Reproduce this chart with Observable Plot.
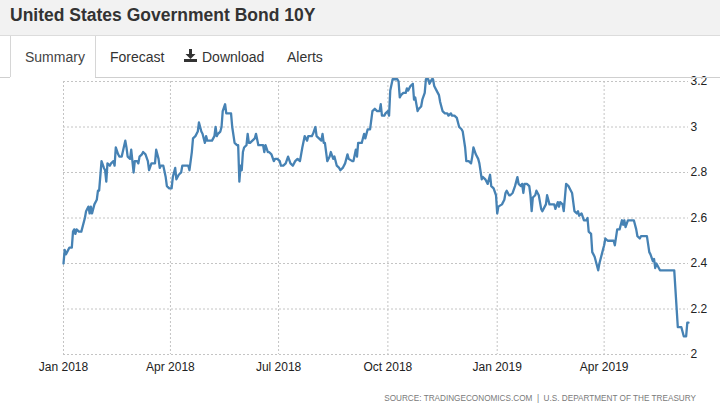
<!DOCTYPE html>
<html>
<head>
<meta charset="utf-8">
<script src="https://cdn.jsdelivr.net/npm/d3@7"></script>
<script src="https://cdn.jsdelivr.net/npm/@observablehq/plot@0.6"></script>
<style>
  html, body { margin: 0; padding: 0; background: #fff; }
  #page { position: relative; width: 720px; height: 412px; overflow: hidden; font-family: "Liberation Sans", Arial, sans-serif; }
  #header { position: absolute; left: 0; top: 0; width: 720px; height: 35px; background: #f2f2f2; border-bottom: 1px solid #dcdcdc; }
  #title { position: absolute; left: 10px; top: 7px; font-size: 17.5px; line-height: 17.5px; font-weight: bold; color: #333; white-space: nowrap; }
  .tab { position: absolute; top: 50px; font-size: 14px; line-height: 14px; color: #333; white-space: nowrap; }
  #activeTab { position: absolute; left: 10px; top: 36px; width: 84px; height: 41px; border-left: 1px solid #d6d6d6; border-right: 1px solid #d6d6d6; background: #fff; }
  .hline { position: absolute; height: 1px; background: #cfcfcf; }
  #chart { position: absolute; left: 0; top: 72px; }
  #source { position: absolute; right: 24px; top: 394px; font-size: 8.2px; line-height: 9px; color: #7a7a7a; letter-spacing: 0px; white-space: pre; }
</style>
</head>
<body>
<div id="page">
  <div id="header"><div id="title">United States Government Bond 10Y</div></div>
  <div id="chart"></div>
  <div id="activeTab"></div>
  <div class="hline" style="left:0;top:77px;width:10px"></div>
  <div class="hline" style="left:95px;top:77px;width:625px"></div>
  <div class="tab" id="tabSummary" style="left:25px;color:#444">Summary</div>
  <div class="tab" style="left:110px">Forecast</div>
  <svg style="position:absolute;left:184px;top:49px" width="13" height="13" viewBox="0 0 13 13">
    <rect x="5" y="0" width="3" height="6" fill="#333"></rect>
    <polygon points="1.5,5 11.5,5 6.5,10" fill="#333"></polygon>
    <rect x="0" y="10" width="13" height="3" fill="#333"></rect>
  </svg>
  <div class="tab" style="left:202px">Download</div>
  <div class="tab" style="left:287px">Alerts</div>
  <div id="source">SOURCE: TRADINGECONOMICS.COM  |  U.S. DEPARTMENT OF THE TREASURY</div>
</div>
<script>
const dates = [
"2018-01-01","2018-01-02","2018-01-03","2018-01-04","2018-01-06","2018-01-08","2018-01-09","2018-01-10","2018-01-11","2018-01-12",
"2018-01-14","2018-01-16","2018-01-19","2018-01-20","2018-01-22","2018-01-23","2018-01-24","2018-01-25","2018-01-27","2018-01-29",
"2018-01-30","2018-01-31","2018-02-02","2018-02-04","2018-02-05","2018-02-06","2018-02-07","2018-02-09","2018-02-10","2018-02-12",
"2018-02-13","2018-02-14","2018-02-16","2018-02-17","2018-02-19","2018-02-22","2018-02-23","2018-02-24","2018-02-26","2018-02-27",
"2018-02-28","2018-03-01","2018-03-02","2018-03-04","2018-03-05","2018-03-06","2018-03-08","2018-03-09","2018-03-11","2018-03-13",
"2018-03-14","2018-03-16","2018-03-17","2018-03-19","2018-03-20","2018-03-22","2018-03-23","2018-03-24","2018-03-26","2018-03-28",
"2018-03-29","2018-03-31","2018-04-02","2018-04-03","2018-04-05","2018-04-06","2018-04-08","2018-04-10","2018-04-11","2018-04-14",
"2018-04-16","2018-04-17","2018-04-19","2018-04-20","2018-04-22","2018-04-24","2018-04-25","2018-04-27","2018-04-28","2018-04-30",
"2018-05-01","2018-05-02","2018-05-04","2018-05-06","2018-05-08","2018-05-09","2018-05-10","2018-05-11","2018-05-13","2018-05-14",
"2018-05-15","2018-05-17","2018-05-18","2018-05-20","2018-05-22","2018-05-23","2018-05-25","2018-05-27","2018-05-28","2018-05-29",
"2018-05-30","2018-05-31","2018-06-01","2018-06-02","2018-06-04","2018-06-05","2018-06-06","2018-06-07","2018-06-09","2018-06-11",
"2018-06-12","2018-06-14","2018-06-16","2018-06-18","2018-06-19","2018-06-20","2018-06-22","2018-06-23","2018-06-25","2018-06-27",
"2018-06-28","2018-06-30","2018-07-02","2018-07-03","2018-07-05","2018-07-07","2018-07-09","2018-07-11","2018-07-13","2018-07-15",
"2018-07-17","2018-07-19","2018-07-21","2018-07-23","2018-07-25","2018-07-26","2018-07-29","2018-07-30","2018-08-01","2018-08-02",
"2018-08-04","2018-08-06","2018-08-07","2018-08-08","2018-08-09","2018-08-11","2018-08-13","2018-08-14","2018-08-16","2018-08-17",
"2018-08-19","2018-08-21","2018-08-22","2018-08-24","2018-08-26","2018-08-28","2018-08-29","2018-09-01","2018-09-02","2018-09-04",
"2018-09-05","2018-09-06","2018-09-09","2018-09-11","2018-09-12","2018-09-14","2018-09-16","2018-09-18","2018-09-20","2018-09-22",
"2018-09-24","2018-09-25","2018-09-26","2018-09-28","2018-09-29","2018-10-01","2018-10-02","2018-10-03","2018-10-05","2018-10-07",
"2018-10-09","2018-10-10","2018-10-11","2018-10-12","2018-10-14","2018-10-16","2018-10-17","2018-10-18","2018-10-20","2018-10-22",
"2018-10-23","2018-10-24","2018-10-26","2018-10-27","2018-10-29","2018-10-30","2018-11-01","2018-11-02","2018-11-04","2018-11-05",
"2018-11-07","2018-11-08","2018-11-09","2018-11-11","2018-11-13","2018-11-14","2018-11-16","2018-11-18","2018-11-20","2018-11-21",
"2018-11-23","2018-11-24","2018-11-26","2018-11-28","2018-11-29","2018-11-30","2018-12-02","2018-12-03","2018-12-05","2018-12-06",
"2018-12-08","2018-12-10","2018-12-11","2018-12-12","2018-12-14","2018-12-16","2018-12-17","2018-12-19","2018-12-20","2018-12-22",
"2018-12-24","2018-12-25","2018-12-26","2018-12-27","2018-12-29","2018-12-31",
"2019-01-01","2019-01-02","2019-01-05","2019-01-07","2019-01-08","2019-01-09","2019-01-11","2019-01-12","2019-01-14","2019-01-16",
"2019-01-18","2019-01-19","2019-01-21","2019-01-22","2019-01-23","2019-01-24","2019-01-26","2019-01-28","2019-01-29","2019-01-30",
"2019-01-31","2019-02-02","2019-02-03","2019-02-05","2019-02-07","2019-02-08","2019-02-10","2019-02-11","2019-02-12","2019-02-14",
"2019-02-16","2019-02-18","2019-02-19","2019-02-21","2019-02-22","2019-02-23","2019-02-25","2019-02-26","2019-02-27","2019-02-28",
"2019-03-02","2019-03-04","2019-03-05","2019-03-07","2019-03-09","2019-03-10","2019-03-11","2019-03-13","2019-03-15","2019-03-17",
"2019-03-18","2019-03-19","2019-03-21","2019-03-22","2019-03-24","2019-03-25","2019-03-27","2019-03-28","2019-03-30","2019-04-01",
"2019-04-02","2019-04-04","2019-04-06","2019-04-09","2019-04-10","2019-04-12","2019-04-13","2019-04-14","2019-04-16","2019-04-17",
"2019-04-18","2019-04-19","2019-04-21","2019-04-23","2019-04-26","2019-04-28","2019-04-29","2019-05-01","2019-05-02","2019-05-05",
"2019-05-07","2019-05-09","2019-05-10","2019-05-12","2019-05-13","2019-05-14","2019-05-15","2019-05-16","2019-05-18","2019-05-21",
"2019-05-27","2019-05-30","2019-06-02","2019-06-04","2019-06-05","2019-06-07","2019-06-09","2019-06-10","2019-06-11"
];
const yields = [
2.40,2.46,2.44,2.45,2.47,2.47,2.54,2.55,2.53,2.55,
2.54,2.54,2.60,2.63,2.65,2.62,2.65,2.62,2.66,2.68,
2.72,2.72,2.85,2.82,2.81,2.76,2.84,2.83,2.84,2.85,
2.83,2.91,2.88,2.87,2.87,2.94,2.91,2.87,2.86,2.90,
2.85,2.80,2.85,2.85,2.84,2.87,2.88,2.89,2.88,2.85,
2.81,2.84,2.84,2.84,2.90,2.86,2.82,2.83,2.83,2.78,
2.74,2.73,2.73,2.78,2.82,2.77,2.79,2.80,2.83,2.83,
2.83,2.81,2.89,2.95,2.96,2.98,3.02,2.98,2.97,2.93,
2.96,2.94,2.94,2.94,2.96,3.00,2.96,2.97,2.98,3.00,
3.07,3.10,3.06,3.06,3.06,3.00,2.93,2.92,2.92,2.76,
2.83,2.81,2.89,2.91,2.92,2.97,2.93,2.93,2.94,2.95,
2.97,2.92,2.92,2.92,2.89,2.92,2.89,2.89,2.88,2.85,
2.86,2.86,2.85,2.83,2.83,2.84,2.87,2.84,2.83,2.85,
2.86,2.85,2.91,2.96,2.94,2.96,2.96,2.97,3.00,2.96,
2.95,2.94,2.97,2.93,2.93,2.85,2.87,2.89,2.86,2.87,
2.83,2.82,2.81,2.82,2.84,2.88,2.86,2.85,2.85,2.90,
2.87,2.93,2.93,2.97,2.95,2.99,2.99,3.07,3.08,3.07,
3.07,3.10,3.05,3.05,3.06,3.07,3.05,3.16,3.21,3.21,
3.21,3.20,3.13,3.14,3.15,3.15,3.17,3.16,3.18,3.19,
3.12,3.13,3.07,3.08,3.09,3.12,3.15,3.21,3.21,3.19,
3.21,3.21,3.18,3.16,3.14,3.11,3.07,3.06,3.06,3.05,
3.06,3.05,3.05,3.04,3.02,3.00,2.99,2.98,2.91,2.85,
2.85,2.84,2.87,2.91,2.88,2.86,2.84,2.77,2.78,2.77,
2.75,2.77,2.79,2.74,2.73,2.70,
2.62,2.65,2.66,2.68,2.71,2.72,2.70,2.70,2.71,2.74,
2.78,2.75,2.74,2.75,2.71,2.75,2.75,2.74,2.70,2.63,
2.69,2.70,2.72,2.70,2.64,2.63,2.65,2.66,2.70,2.66,
2.66,2.66,2.64,2.67,2.65,2.67,2.66,2.63,2.69,2.75,
2.74,2.72,2.71,2.63,2.62,2.63,2.61,2.62,2.59,2.59,
2.60,2.54,2.53,2.45,2.43,2.41,2.37,2.40,2.44,2.48,
2.51,2.50,2.50,2.50,2.48,2.55,2.55,2.55,2.59,2.57,
2.59,2.56,2.59,2.59,2.59,2.55,2.52,2.51,2.52,2.52,
2.52,2.45,2.44,2.41,2.42,2.38,2.40,2.39,2.37,2.37,
2.37,2.37,2.12,2.12,2.12,2.08,2.08,2.14,2.14
];
const xTickDates = ["2018-01-01","2018-04-01","2018-07-01","2018-10-01","2019-01-01","2019-04-01"];
const yTickValues = [2, 2.2, 2.4, 2.6, 2.8, 3, 3.2];
const xStart = "2018-01-01";
const xEnd = "2019-06-11";

const parse = s => new Date(s + "T00:00:00Z");
const rows = dates.map((d, i) => ({date: parse(d), value: yields[i]}));
const xTicks = xTickDates.map(parse);
const gridStyle = {stroke: "#c4c4c4", strokeOpacity: 1, strokeWidth: 1, strokeDasharray: "2,2"};

const chart = Plot.plot({
  width: 720,
  height: 312,
  marginTop: 9,
  marginBottom: 30,
  marginLeft: 63,
  marginRight: 32,
  style: {background: "transparent", fontFamily: "'Liberation Sans', Arial, sans-serif", fontSize: "12px", color: "#222", overflow: "visible"},
  x: {type: "utc", domain: [parse(xStart), parse(xEnd)]},
  y: {domain: [2, 3.2]},
  marks: [
    Plot.gridX(xTicks, gridStyle),
    Plot.gridY(yTickValues, gridStyle),
    Plot.axisX(xTicks, {tickSize: 0, tickPadding: 8, tickFormat: d3.utcFormat("%b %Y"), label: null}),
    Plot.axisY(yTickValues, {anchor: "right", tickSize: 0, tickPadding: 2, tickFormat: d => String(+d.toFixed(1)), label: null}),
    Plot.lineY(rows, {x: "date", y: "value", stroke: "#4682b4", strokeWidth: 2.3, strokeLinejoin: "round"})
  ]
});
document.getElementById("chart").appendChild(chart);
</script>
</body>
</html>
